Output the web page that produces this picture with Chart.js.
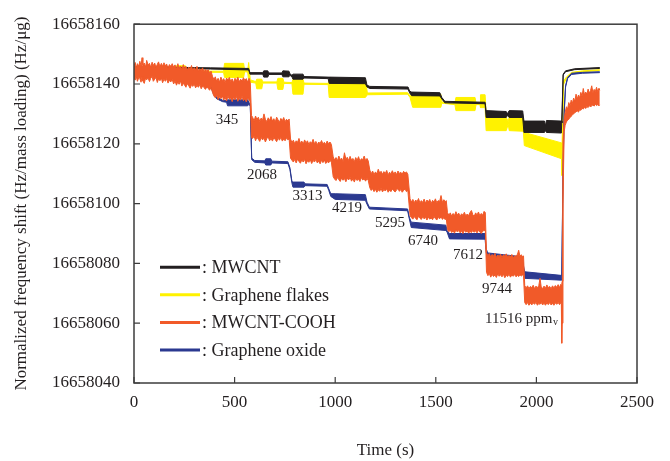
<!DOCTYPE html>
<html><head><meta charset="utf-8">
<script src="https://cdn.jsdelivr.net/npm/chart.js@4/dist/chart.umd.min.js"></script>
<style>html,body{margin:0;padding:0;background:#fff}canvas{display:block}</style>
</head><body>
<canvas id="c" width="670" height="461"></canvas>
<script>
// values are stored as offsets above yBase (Hz/µg); each row = [time (s), upper edge, lower edge] of the trace
const yBase = 16658000;

const mwcnt = [
[0,145.8,145.3],[380,145.4,145.0],[570,145.2,144.7],[576,143.8,143.3],[640,143.8,143.3],[645,144.4,142.3],[665,144.4,142.3],
[670,143.7,143.2],[735,143.7,143.2],[740,144.4,142.4],[770,144.3,142.4],[775,143.4,142.9],[785,142.9,142.4],[790,143.3,141.6],
[840,143.3,141.6],[845,142.5,142.0],[965,142.3,141.8],[970,142.3,140.2],[1150,142.1,140.1],[1158,139.6,139.0],[1172,139.2,138.5],
[1362,139.0,138.3],[1370,137.6,137.0],[1380,137.3,136.1],[1520,137.1,136.0],[1530,135.5,135.0],[1545,134.2,133.7],[1745,133.9,133.4],
[1750,131.1,128.8],[1850,130.8,128.8],[1855,130.0,129.5],[1865,131.1,128.8],[1932,131.0,128.8],[1938,127.6,123.8],[2040,127.6,123.8],
[2045,126.0,124.5],[2050,127.8,123.8],[2124,127.6,123.6],[2127,127.0,123.6],[2133,143.3,143.0],[2145,144.4,144.1],[2190,145.1,144.8],
[2315,145.5,145.2]
];

const grapheneFlakes = [
[0,144.8,144.3],[205,144.6,144.2],[210,146.1,143.3],[255,146.1,143.3],[260,144.3,143.9],[445,144.3,143.9],[450,146.9,142.2],
[545,146.9,142.2],[550,144.5,144.1],[565,144.6,144.0],[570,147.2,141.0],[578,141.4,140.6],[605,140.8,140.3],[610,141.6,138.4],
[635,141.6,138.4],[640,140.7,140.3],[710,140.7,140.3],[715,141.9,138.2],[740,141.9,138.2],[745,140.6,140.2],[785,140.5,140.1],
[790,141.6,136.6],[840,141.6,136.6],[845,140.3,139.9],[965,140.2,139.8],[970,141.4,135.5],[1150,141.4,135.5],[1160,137.0,136.4],
[1360,137.1,136.6],[1372,136.0,135.5],[1385,136.6,132.2],[1525,136.6,132.2],[1530,134.0,133.6],[1595,133.5,133.1],[1600,135.5,131.1],
[1695,135.5,131.1],[1700,133.5,133.1],[1720,133.5,133.1],[1722,136.4,132.1],[1745,136.4,132.1],[1750,130.5,124.4],[1850,128.8,124.4],
[1860,127.5,126.5],[1865,129.0,124.4],[1935,128.6,124.2],[1940,123.8,119.4],[2125,120.3,115.0],[2127,118.0,109.4],[2135,141.0,139.8],
[2150,142.4,142.0],[2175,143.9,143.5],[2230,144.4,144.1],[2315,144.8,144.5]
];

const mwcntCooh = [
[0,146.0,142.0],[6,147.2,141.3],[11,145.4,142.6],[17,146.8,140.9],[24,145.9,142.2],[29,147.6,141.8],[35,146.1,140.6],[40,148.8,142.4],
[44,146.3,141.0],[51,147.0,140.2],[58,145.7,142.1],[63,147.9,141.4],[70,146.4,142.0],[77,146.9,140.8],[83,145.6,141.9],[90,147.3,142.5],
[96,146.2,140.9],[103,147.0,141.6],[109,145.5,142.2],[116,146.6,140.5],[122,147.4,141.7],[129,145.8,141.1],[136,146.9,142.0],
[142,145.9,140.4],[149,147.1,141.6],[156,146.0,140.9],[162,146.7,141.8],[169,145.3,140.3],[176,146.5,141.2],[183,145.9,140.7],
[190,146.8,141.5],
[197,145.6,140.0],[204,146.4,141.0],[211,145.0,139.6],[218,146.8,140.7],[224,145.3,139.9],[231,146.0,141.0],[238,144.8,139.3],
[245,146.5,140.2],[251,145.2,139.7],[258,145.9,138.9],[265,144.6,140.1],[272,145.7,139.4],[279,144.9,138.6],[286,146.2,139.8],
[292,144.4,139.2],[299,145.5,140.0],[306,144.7,138.7],[313,145.9,139.5],[320,144.3,138.9],[327,145.1,139.8],[334,144.6,138.4],
[341,145.4,139.3],[348,143.9,138.8],[355,145.0,138.2],[362,144.2,139.0],[369,144.8,138.5],[376,143.6,137.9],[383,144.3,138.9],
[390,142.6,137.2],[397,141.5,136.0],[404,142.4,135.4],[411,140.9,136.3],[418,141.9,134.8],[425,140.6,135.7],[432,142.3,135.1],
[439,141.1,136.0],[446,141.8,134.6],[453,140.5,135.5],[460,142.0,134.3],[467,141.3,135.9],[474,142.2,134.9],[481,140.8,135.3],
[488,141.7,134.1],[495,140.4,135.6],[502,141.9,134.7],[509,141.0,135.8],[516,142.3,134.2],[523,140.7,135.2],[530,141.6,134.6],
[537,140.9,135.9],[544,142.1,134.4],[551,141.2,135.1],[558,141.8,134.0],[565,140.6,135.4],[572,141.9,134.6],[578,140.5,134.0],
[584,129.5,122.0],[590,128.8,121.8],[597,127.6,122.6],[604,129.3,121.0],[611,128.1,122.2],[618,128.9,121.5],[625,127.5,120.8],
[632,128.6,122.1],[639,127.9,121.3],[646,130.0,121.9],[653,128.2,120.6],[660,127.4,121.7],[667,128.7,122.3],[674,127.8,121.0],
[681,129.1,121.8],[688,127.6,120.9],[695,128.4,122.0],[702,127.3,121.4],[709,128.9,120.7],[716,128.0,121.9],[723,127.2,121.2],
[730,128.5,122.2],[737,127.7,120.9],[744,128.8,121.6],[751,127.4,121.0],[758,128.2,122.0],[765,127.6,121.3],[771,128.3,121.7],
[778,121.6,115.2],[785,120.4,114.5],[792,121.2,113.9],[799,120.0,114.8],[806,121.0,113.6],[813,120.5,114.9],[820,121.8,114.1],
[827,120.1,113.5],[834,120.9,114.6],[841,119.9,113.9],[848,121.3,114.8],[855,120.3,113.3],[862,121.0,114.3],[869,119.8,113.8],
[876,120.7,114.7],[883,120.2,113.4],[890,121.5,114.4],[897,120.0,113.9],[904,120.8,114.8],[911,119.7,113.6],[918,120.6,114.2],
[925,120.1,113.3],[932,121.1,114.5],[939,119.9,113.7],[946,120.5,114.6],[953,119.8,113.4],[960,120.9,114.1],[967,120.0,113.6],
[974,120.6,114.4],[981,119.8,113.9],
[990,115.6,109.0],[997,114.6,108.2],[1004,115.4,107.7],[1011,114.3,108.7],[1018,115.9,108.0],[1025,114.7,107.4],[1032,115.2,108.6],
[1039,114.1,107.8],[1046,117.0,108.4],[1053,114.9,107.3],[1060,115.5,108.5],[1067,114.4,107.9],[1074,115.8,108.8],[1081,114.6,107.5],
[1088,115.1,108.3],[1095,114.0,107.2],[1102,115.4,108.6],[1109,114.5,107.7],[1116,115.7,108.2],[1123,114.2,107.4],[1130,115.0,108.7],
[1137,114.7,107.9],[1144,115.9,108.3],[1151,114.4,107.5],[1158,115.1,108.4],[1164,114.3,107.8],
[1172,111.2,105.3],[1179,110.0,104.4],[1186,110.9,105.0],[1193,109.7,104.0],[1200,110.6,104.8],[1207,109.9,103.8],[1214,111.5,104.6],
[1221,110.2,104.1],[1228,110.8,105.1],[1235,109.8,103.9],[1242,110.7,104.7],[1249,110.1,104.2],[1256,111.1,105.0],[1263,109.6,103.8],
[1270,110.5,104.5],[1277,110.0,104.0],[1284,111.0,104.9],[1291,109.9,104.3],[1298,110.6,103.9],[1305,109.7,104.6],[1312,110.9,105.0],
[1319,110.1,104.1],[1326,110.5,104.7],[1333,109.8,103.8],[1340,110.8,104.4],[1347,110.2,104.9],[1354,110.6,104.0],[1361,109.8,104.4],
[1372,101.6,96.0],[1379,100.5,95.3],[1386,101.4,94.8],[1393,100.3,95.7],[1400,101.2,95.0],[1407,100.6,94.6],[1414,101.7,95.8],
[1421,100.2,95.1],[1428,101.0,94.7],[1435,100.4,95.6],[1442,101.5,94.9],[1449,100.1,95.4],[1456,101.2,94.5],[1463,100.6,95.5],
[1470,101.4,94.8],[1477,100.0,95.2],[1484,101.1,94.6],[1491,100.5,95.7],[1498,101.6,95.0],[1505,100.3,94.5],[1512,101.0,95.4],
[1519,100.7,94.9],[1526,102.7,95.6],[1533,100.4,94.7],[1540,101.3,95.3],[1547,100.6,94.6],[1552,101.0,95.2],
[1558,97.0,91.3],[1565,96.1,90.6],[1572,96.9,91.1],[1579,95.8,90.3],[1586,96.7,90.9],[1593,96.0,90.1],[1600,97.3,91.2],
[1607,96.2,90.5],[1614,96.8,91.0],[1621,95.7,90.2],[1628,96.6,90.8],[1635,96.1,90.0],[1642,97.1,91.1],[1649,95.9,90.4],
[1656,96.5,90.9],[1663,96.0,90.1],[1670,97.0,90.7],[1677,97.7,90.3],[1684,96.3,91.0],[1691,95.8,90.4],[1698,96.9,90.9],
[1705,96.2,90.2],[1712,97.2,91.1],[1719,95.9,90.5],[1726,96.7,90.0],[1733,96.1,90.8],[1740,97.4,91.0],[1746,97.0,91.0],
[1752,83.6,77.0],[1759,82.5,75.9],[1766,83.3,76.6],[1773,82.1,75.4],[1780,83.0,76.3],[1787,82.4,75.6],[1794,83.4,76.1],
[1801,82.0,75.3],[1808,82.8,76.5],[1815,82.3,75.7],[1822,83.1,76.2],[1829,81.9,75.5],[1836,82.9,76.4],[1843,82.5,75.2],
[1850,83.2,76.0],[1857,82.1,75.6],[1864,82.7,76.4],[1871,82.2,75.4],[1878,83.0,76.1],[1885,81.8,75.7],[1892,82.6,76.3],
[1899,82.3,75.5],[1906,83.1,76.0],[1912,84.4,75.6],[1918,82.4,76.2],[1925,82.9,75.8],[1931,82.2,76.1],[1936,82.5,75.8],
[1942,72.6,66.9],[1949,71.8,66.2],[1956,72.5,66.9],[1963,71.6,66.0],[1970,72.3,66.7],[1977,71.9,66.1],[1984,72.7,66.8],
[1991,71.5,66.3],[1998,72.4,67.0],[2005,71.8,66.0],[2012,72.6,66.6],[2018,75.0,66.3],[2024,72.1,66.9],[2031,71.6,66.1],
[2038,72.4,66.7],[2045,71.7,66.0],[2052,72.8,66.8],[2059,71.9,66.2],[2066,72.3,66.9],[2073,71.5,66.1],[2080,72.5,66.6],
[2087,71.8,66.0],[2094,72.6,66.8],[2101,72.0,66.3],[2108,72.9,66.9],[2115,71.9,66.2],[2121,73.0,66.8],
[2124,72.5,66.5],[2126,73.0,53.3],[2128,74.0,60.0],[2132,121.0,100.0],[2138,128.0,124.0],
[2143,130.5,126.2],[2149,132.4,127.3],[2155,131.6,127.9],[2161,133.8,128.2],[2167,132.7,128.9],[2173,134.6,129.1],[2179,133.5,129.8],
[2185,135.3,130.0],[2191,134.2,130.4],[2197,136.6,130.7],[2203,135.0,131.0],[2209,136.3,130.6],[2215,135.4,131.4],[2221,137.2,131.2],
[2227,135.9,131.9],[2233,138.5,131.6],[2239,136.4,132.2],[2245,137.3,131.8],[2251,136.6,132.5],[2257,138.3,132.1],[2263,136.9,132.8],
[2269,137.8,132.3],[2275,139.4,132.7],[2281,137.1,133.0],[2287,138.2,132.6],[2293,137.5,133.2],[2299,138.9,132.8],[2305,137.4,133.1],
[2311,138.6,132.7],[2315,137.9,133.0]
];

const grapheneOxide = [
[0,145.4,144.8],[100,145.0,144.4],[250,144.6,144.0],[355,143.8,143.3],[370,141.8,141.3],[380,139.8,139.3],[395,137.2,136.7],
[410,135.6,135.1],[440,134.6,134.1],[460,134.4,133.9],[465,134.7,132.7],[565,134.7,132.7],[572,133.8,133.3],[578,133.0,132.5],
[585,115.2,114.7],[600,114.4,113.8],[650,114.3,113.6],[655,115.0,112.9],[680,115.0,112.9],[685,114.2,113.6],[765,114.0,113.4],
[775,112.0,111.4],[785,107.4,106.8],[790,107.2,105.5],[845,107.2,105.5],[850,106.6,106.0],[960,106.4,105.8],[968,105.0,104.4],
[978,103.3,102.4],[1000,103.3,101.4],[1150,103.0,101.1],[1158,100.5,99.8],[1170,98.8,98.2],[1360,98.2,97.6],[1368,95.5,95.0],
[1378,93.8,92.0],[1550,92.8,91.0],[1556,91.0,90.5],[1568,90.0,88.2],[1745,90.0,88.1],[1750,85.0,84.0],[1758,83.5,80.8],
[1930,82.2,80.0],[1935,79.5,78.5],[1942,77.2,75.0],[2122,76.0,74.4],[2126,76.0,74.4],[2132,110.0,108.0],[2138,131.0,130.0],
[2145,139.4,139.0],[2155,142.2,141.8],[2175,143.6,143.2],[2230,143.9,143.6],[2315,144.1,143.8]
];

const seriesNames = ['MWCNT', 'Graphene flakes', 'MWCNT-COOH', 'Graphene oxide'];
const seriesColors = ['#231f20', '#fff200', '#f15a29', '#2b3990'];
const xTickValues = [0, 500, 1000, 1500, 2000, 2500];
const yTickValues = [16658040, 16658060, 16658080, 16658100, 16658120, 16658140, 16658160];

const annoLabels = ['345', '2068', '3313', '4219', '5295', '6740', '7612', '9744'];
const annoTime   = [462, 636, 862, 1059, 1272, 1436, 1660, 1804];
const annoValue  = [16658128.0, 16658109.6, 16658102.5, 16658098.5, 16658093.4, 16658087.4, 16658082.8, 16658071.5];
const lastAnno = {text: '11516 ppm', sub: 'v', time: 1745, value: 16658061.5};

const FONT = '"Liberation Serif", "Times New Roman", serif';
const TXT = '#231f20';

// draw order: first dataset on top
const seriesRows = [mwcnt, grapheneFlakes, mwcntCooh, grapheneOxide];
const drawOrder = [2, 3, 0, 1];
const datasets = [];
drawOrder.forEach(i => {
  const rows = seriesRows[i], col = seriesColors[i];
  datasets.push({label: seriesNames[i], data: rows.map(r => ({x: r[0], y: yBase + r[1]})),
    borderColor: col, backgroundColor: col, borderWidth: 1, pointRadius: 0, fill: false, tension: 0});
  datasets.push({label: seriesNames[i] + ' (lower)', data: rows.map(r => ({x: r[0], y: yBase + r[2]})),
    borderColor: col, backgroundColor: col, borderWidth: 1, pointRadius: 0, fill: '-1', tension: 0});
});

const framePlugin = {
  id: 'frame',
  afterDraw(chart) {
    const {ctx, chartArea: a, scales} = chart;
    ctx.save();
    ctx.strokeStyle = '#3c3c3c';
    ctx.lineWidth = 1.5;
    ctx.strokeRect(a.left, a.top, a.right - a.left, a.bottom - a.top);
    ctx.lineWidth = 1.2;
    ctx.beginPath();
    xTickValues.forEach(v => { const px = scales.x.getPixelForValue(v); ctx.moveTo(px, a.bottom); ctx.lineTo(px, a.bottom - 6); });
    yTickValues.forEach(v => { const py = scales.y.getPixelForValue(v); ctx.moveTo(a.left, py); ctx.lineTo(a.left + 6, py); });
    ctx.stroke();
    ctx.restore();
  }
};

const annoPlugin = {
  id: 'anno',
  afterDatasetsDraw(chart) {
    const {ctx, scales} = chart;
    ctx.save();
    ctx.fillStyle = TXT;
    ctx.font = '15px ' + FONT;
    ctx.textAlign = 'center';
    ctx.textBaseline = 'middle';
    annoLabels.forEach((t, i) => ctx.fillText(t, scales.x.getPixelForValue(annoTime[i]), scales.y.getPixelForValue(annoValue[i])));
    const lx = scales.x.getPixelForValue(lastAnno.time), ly = scales.y.getPixelForValue(lastAnno.value);
    ctx.textAlign = 'left';
    ctx.fillText(lastAnno.text, lx, ly);
    const w = ctx.measureText(lastAnno.text).width;
    ctx.font = '10px ' + FONT;
    ctx.fillText(lastAnno.sub, lx + w + 0.5, ly + 4);
    ctx.restore();
  }
};

const legendPlugin = {
  id: 'customLegend',
  afterDraw(chart) {
    const {ctx, chartArea: a} = chart;
    ctx.save();
    ctx.font = '18px ' + FONT;
    ctx.textBaseline = 'middle';
    ctx.textAlign = 'left';
    seriesNames.forEach((name, i) => {
      const y = a.top + 243 + i * 27.6;
      ctx.strokeStyle = seriesColors[i];
      ctx.lineWidth = 3;
      ctx.beginPath();
      ctx.moveTo(a.left + 26, y); ctx.lineTo(a.left + 66, y);
      ctx.stroke();
      ctx.fillStyle = TXT;
      ctx.fillText(': ' + name, a.left + 68, y + 1);
    });
    ctx.restore();
  }
};

new Chart(document.getElementById('c'), {
  type: 'line',
  data: {datasets},
  options: {
    responsive: false, animation: false, devicePixelRatio: 1,
    layout: {padding: {left: 0, top: 21, right: 33, bottom: 0}},
    plugins: {legend: {display: false}, tooltip: {enabled: false}},
    elements: {point: {radius: 0}, line: {tension: 0}},
    scales: {
      x: {
        type: 'linear', min: 0, max: 2500,
        afterBuildTicks: s => { s.ticks = xTickValues.map(v => ({value: v})); },
        grid: {display: false, drawTicks: false}, border: {display: false},
        ticks: {font: {family: FONT, size: 17}, color: TXT, padding: 9, maxRotation: 0, autoSkip: false, callback: v => String(v)},
        title: {display: true, text: 'Time (s)', font: {family: FONT, size: 17}, color: TXT, padding: {top: 0, bottom: 0}},
        afterFit: s => { s.height = 78; }
      },
      y: {
        type: 'linear', min: 16658040, max: 16658160,
        afterBuildTicks: s => { s.ticks = yTickValues.map(v => ({value: v})); },
        grid: {display: false, drawTicks: false}, border: {display: false},
        ticks: {font: {family: FONT, size: 17}, color: TXT, padding: 14, autoSkip: false, callback: v => String(v)},
        title: {display: true, text: 'Normalized frequency shift (Hz/mass loading) (Hz/\u03bcg)', font: {family: FONT, size: 17}, color: TXT, padding: {top: 11, bottom: 0}},
        afterFit: s => { s.width = 134; }
      }
    }
  },
  plugins: [framePlugin, annoPlugin, legendPlugin]
});
</script>
</body></html>
